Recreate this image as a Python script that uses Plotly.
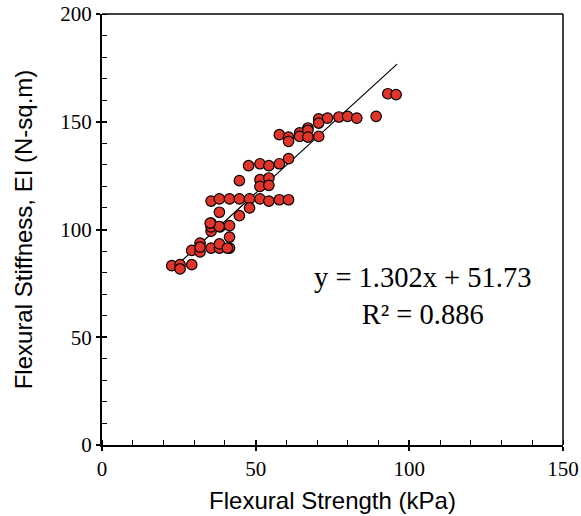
import plotly.graph_objects as go

strength = [22.7, 25.4, 25.4, 29.2, 29.2, 31.9, 31.9, 31.9, 35.5, 38.2, 38.2, 41.5, 41.5,
            35.5, 35.5, 35.5, 38.4, 41.5, 38.2, 35.5, 38.2, 41.5, 44.7, 48.0, 48.0, 44.7,
            44.7, 47.7, 51.4, 54.3, 57.7, 60.7, 51.4, 51.4, 54.3, 54.3, 51.4, 54.3, 57.7,
            60.7, 57.7, 60.7, 60.7, 64.3, 64.3, 67.0, 67.0, 67.0, 70.5, 70.5, 70.5, 73.4,
            77.1, 79.9, 82.9, 89.2, 93.0, 95.7, 40.8, 38.1, 35.2]
stiffness = [83.2, 83.7, 81.7, 83.7, 90.3, 93.7, 89.6, 91.8, 91.4, 91.4, 93.3, 91.4, 96.5,
             99.2, 103.0, 101.2, 101.2, 101.8, 108.0, 113.2, 114.2, 114.2, 114.2, 114.2, 110.0, 106.4,
             122.7, 129.6, 114.2, 113.2, 113.8, 113.8, 123.1, 120.0, 123.9, 120.5, 130.5, 129.6, 130.5,
             132.9, 144.0, 142.9, 140.9, 144.8, 143.2, 147.1, 146.0, 142.9, 143.2, 151.3, 149.4, 151.7,
             152.2, 152.5, 151.7, 152.5, 163.0, 162.6, 91.4, 101.4, 103.0]

slope = 1.302
intercept = 51.73
fit_x = [22.7, 96.0]
fit_y = [slope * v + intercept for v in fit_x]

fig = go.Figure()
fig.add_trace(go.Scatter(x=fit_x, y=fit_y, mode="lines",
                         line=dict(color="black", width=1.2), showlegend=False))
fig.add_trace(go.Scatter(x=strength, y=stiffness, mode="markers",
                         marker=dict(size=10.5, color="#E0352A", line=dict(color="black", width=1.2)),
                         showlegend=False))
# invisible trace to activate overlay axes for inside major ticks
fig.add_trace(go.Scatter(x=[None], y=[None], xaxis="x2", yaxis="y2", showlegend=False))

tickfont = dict(family="Liberation Serif, Times New Roman, serif", size=21, color="black")
titlefont = dict(family="Liberation Sans, Arial, sans-serif", size=24, color="black")

fig.update_layout(
    width=581, height=516,
    margin=dict(l=102, r=18, t=14, b=71),
    paper_bgcolor="white", plot_bgcolor="white",
    xaxis=dict(range=[0, 150], dtick=50, ticks="outside", ticklen=4, tickwidth=1.5,
               tickcolor="black", showline=True, linewidth=2, linecolor="black",
               showgrid=False, zeroline=False, tickfont=tickfont, automargin=False,
               minor=dict(dtick=10, ticks="inside", ticklen=5, tickwidth=1.2, tickcolor="black"),
               title=dict(text="Flexural Strength (kPa)", font=titlefont, standoff=12)),
    yaxis=dict(range=[0, 200], dtick=50, ticks="outside", ticklen=4, tickwidth=1.5,
               tickcolor="black", showline=True, linewidth=2, linecolor="black",
               showgrid=False, zeroline=False, tickfont=tickfont, automargin=False,
               minor=dict(dtick=10, ticks="inside", ticklen=5, tickwidth=1.2, tickcolor="black"),
               title=dict(text="Flexural Stiffness, EI (N-sq.m)", font=titlefont, standoff=21)),
    xaxis2=dict(overlaying="x", matches="x", range=[0, 150], dtick=50, ticks="inside",
                ticklen=5, tickwidth=1.5, tickcolor="black", showticklabels=False,
                showgrid=False, zeroline=False, showline=False, automargin=False),
    yaxis2=dict(overlaying="y", matches="y", range=[0, 200], dtick=50, ticks="inside",
                ticklen=5, tickwidth=1.5, tickcolor="black", showticklabels=False,
                showgrid=False, zeroline=False, showline=False, side="left", automargin=False),
    shapes=[
        dict(type="line", xref="paper", yref="paper", x0=0, x1=1, y0=1, y1=1,
             line=dict(color="black", width=1.5)),
        dict(type="line", xref="paper", yref="paper", x0=1, x1=1, y0=0, y1=1,
             line=dict(color="black", width=1.5)),
    ],
    annotations=[
        dict(x=0.696, y=0.346, xref="paper", yref="paper", xanchor="center", yanchor="middle",
             text="y = 1.302x + 51.73<br>R² = 0.886", showarrow=False, align="center",
             font=dict(family="Liberation Serif, Times New Roman, serif", size=28.5, color="black")),
    ],
)

fig.write_html("out.html", config={"displayModeBar": False},
               post_script="document.body.style.margin='0';document.body.style.overflow='hidden';")
